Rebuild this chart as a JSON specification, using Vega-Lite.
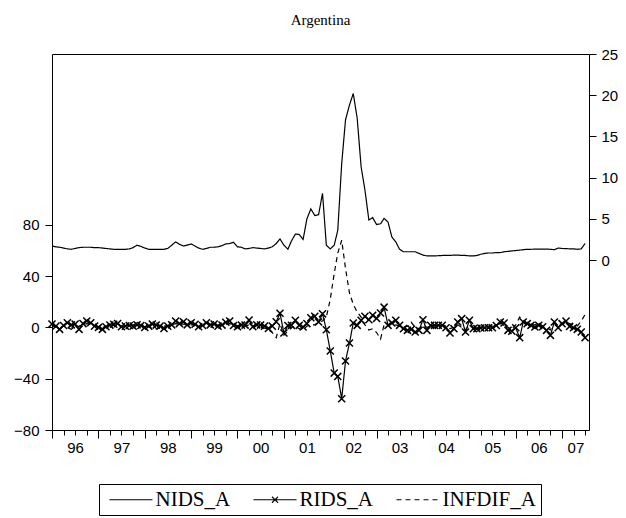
{
  "$schema": "https://vega.github.io/schema/vega-lite/v6.json",
  "autosize": {"type": "none"},
  "width": 537,
  "height": 376,
  "padding": {"left": 52, "top": 54, "right": 37, "bottom": 88},
  "background": "white",
  "title": {"text": "Argentina", "font": "Liberation Serif", "fontSize": 15, "fontWeight": "normal", "color": "black", "frame": "group", "anchor": "middle", "baseline": "alphabetic", "offset": 7},
  "config": {
    "view": {"stroke": "black", "strokeWidth": 1},
    "axis": {"labelFont": "Liberation Sans", "labelFontSize": 15, "labelColor": "black", "tickColor": "black", "domain": false, "grid": false, "title": null}
  },
  "data": {"values": [
{"d":"1996-01","n":1.7,"r":2.6,"i":1.5},
{"d":"1996-02","n":1.6,"r":1,"i":0.5},
{"d":"1996-03","n":1.55,"r":-1.5,"i":-0.5},
{"d":"1996-04","n":1.45,"r":1.5,"i":1},
{"d":"1996-05","n":1.35,"r":3.6,"i":0},
{"d":"1996-06","n":1.3,"r":2,"i":-1.5},
{"d":"1996-07","n":1.4,"r":2.6,"i":0.5},
{"d":"1996-08","n":1.5,"r":-1.5,"i":1},
{"d":"1996-09","n":1.55,"r":3,"i":2},
{"d":"1996-10","n":1.55,"r":5,"i":3},
{"d":"1996-11","n":1.55,"r":3.6,"i":2.5},
{"d":"1996-12","n":1.5,"r":1,"i":1.5},
{"d":"1997-01","n":1.5,"r":0,"i":0.5},
{"d":"1997-02","n":1.45,"r":-1.5,"i":0},
{"d":"1997-03","n":1.4,"r":0.5,"i":0.5},
{"d":"1997-04","n":1.35,"r":1.8,"i":1},
{"d":"1997-05","n":1.3,"r":2.5,"i":1.5},
{"d":"1997-06","n":1.3,"r":3,"i":2},
{"d":"1997-07","n":1.3,"r":0.5,"i":1},
{"d":"1997-08","n":1.3,"r":1,"i":1},
{"d":"1997-09","n":1.35,"r":1.5,"i":1.5},
{"d":"1997-10","n":1.5,"r":1,"i":2},
{"d":"1997-11","n":1.8,"r":2,"i":2.5},
{"d":"1997-12","n":1.65,"r":1.5,"i":1.5},
{"d":"1998-01","n":1.45,"r":0,"i":0.5},
{"d":"1998-02","n":1.3,"r":1,"i":0.5},
{"d":"1998-03","n":1.3,"r":2.6,"i":-0.5},
{"d":"1998-04","n":1.3,"r":1.8,"i":-1},
{"d":"1998-05","n":1.3,"r":1,"i":0},
{"d":"1998-06","n":1.3,"r":-0.8,"i":1},
{"d":"1998-07","n":1.4,"r":1,"i":1.5},
{"d":"1998-08","n":1.8,"r":2,"i":2},
{"d":"1998-09","n":2.2,"r":5,"i":3},
{"d":"1998-10","n":1.9,"r":3,"i":2.5},
{"d":"1998-11","n":1.7,"r":4.4,"i":2.5},
{"d":"1998-12","n":1.8,"r":2,"i":2},
{"d":"1999-01","n":1.95,"r":3.6,"i":2},
{"d":"1999-02","n":1.7,"r":2.5,"i":2},
{"d":"1999-03","n":1.45,"r":0.5,"i":1.5},
{"d":"1999-04","n":1.3,"r":1.5,"i":1.5},
{"d":"1999-05","n":1.4,"r":3.6,"i":2},
{"d":"1999-06","n":1.55,"r":2,"i":2},
{"d":"1999-07","n":1.55,"r":2.6,"i":2.5},
{"d":"1999-08","n":1.6,"r":1,"i":2},
{"d":"1999-09","n":1.75,"r":1.8,"i":2},
{"d":"1999-10","n":1.95,"r":4,"i":2.5},
{"d":"1999-11","n":2.0,"r":5,"i":3},
{"d":"1999-12","n":2.15,"r":1.5,"i":2},
{"d":"2000-01","n":1.6,"r":0.5,"i":1.5},
{"d":"2000-02","n":1.55,"r":1.8,"i":1.5},
{"d":"2000-03","n":1.35,"r":1.8,"i":1},
{"d":"2000-04","n":1.4,"r":5.7,"i":2},
{"d":"2000-05","n":1.5,"r":0.5,"i":1},
{"d":"2000-06","n":1.45,"r":2,"i":1.5},
{"d":"2000-07","n":1.4,"r":1.8,"i":0},
{"d":"2000-08","n":1.35,"r":1,"i":-0.5},
{"d":"2000-09","n":1.45,"r":-0.8,"i":-2},
{"d":"2000-10","n":1.6,"r":1,"i":-4},
{"d":"2000-11","n":2.0,"r":4.4,"i":-8},
{"d":"2000-12","n":2.55,"r":11,"i":3},
{"d":"2001-01","n":1.8,"r":-4.4,"i":-6},
{"d":"2001-02","n":1.3,"r":1.5,"i":-3},
{"d":"2001-03","n":2.3,"r":1.6,"i":0},
{"d":"2001-04","n":3.15,"r":5.5,"i":1},
{"d":"2001-05","n":3.1,"r":1.6,"i":-1},
{"d":"2001-06","n":2.5,"r":0.3,"i":-2},
{"d":"2001-07","n":5.0,"r":3,"i":1},
{"d":"2001-08","n":6.2,"r":7.5,"i":2},
{"d":"2001-09","n":5.4,"r":8.6,"i":2},
{"d":"2001-10","n":5.5,"r":4.2,"i":4},
{"d":"2001-11","n":8.1,"r":10.6,"i":5},
{"d":"2001-12","n":1.8,"r":-1.8,"i":8},
{"d":"2002-01","n":1.35,"r":-18.4,"i":22},
{"d":"2002-02","n":1.8,"r":-35.6,"i":42},
{"d":"2002-03","n":3.6,"r":-38.2,"i":58},
{"d":"2002-04","n":11.7,"r":-55.6,"i":68},
{"d":"2002-05","n":17.0,"r":-26.2,"i":46},
{"d":"2002-06","n":18.8,"r":-12.2,"i":27},
{"d":"2002-07","n":20.2,"r":3.4,"i":18},
{"d":"2002-08","n":17.2,"r":1.6,"i":12},
{"d":"2002-09","n":11.3,"r":5.5,"i":8},
{"d":"2002-10","n":8.5,"r":8.6,"i":2},
{"d":"2002-11","n":4.85,"r":6,"i":-2},
{"d":"2002-12","n":5.15,"r":9.4,"i":-1},
{"d":"2003-01","n":4.3,"r":7,"i":-4},
{"d":"2003-02","n":4.4,"r":11.2,"i":-9},
{"d":"2003-03","n":5.05,"r":15.8,"i":2},
{"d":"2003-04","n":4.6,"r":1.6,"i":1},
{"d":"2003-05","n":2.8,"r":3.5,"i":3},
{"d":"2003-06","n":2.2,"r":5.5,"i":2},
{"d":"2003-07","n":1.3,"r":1.6,"i":1},
{"d":"2003-08","n":1.0,"r":-1,"i":0},
{"d":"2003-09","n":1.0,"r":-2.3,"i":1},
{"d":"2003-10","n":1.0,"r":-1.5,"i":4},
{"d":"2003-11","n":1.0,"r":-3.6,"i":0},
{"d":"2003-12","n":0.8,"r":-2.3,"i":-1},
{"d":"2004-01","n":0.6,"r":6,"i":2},
{"d":"2004-02","n":0.5,"r":-2.3,"i":0},
{"d":"2004-03","n":0.5,"r":1.6,"i":1},
{"d":"2004-04","n":0.5,"r":1.6,"i":0},
{"d":"2004-05","n":0.52,"r":1.6,"i":1},
{"d":"2004-06","n":0.55,"r":1.6,"i":2},
{"d":"2004-07","n":0.55,"r":-0.3,"i":1},
{"d":"2004-08","n":0.55,"r":-4.4,"i":-1},
{"d":"2004-09","n":0.6,"r":-1,"i":0},
{"d":"2004-10","n":0.6,"r":4.2,"i":2},
{"d":"2004-11","n":0.55,"r":6.8,"i":0},
{"d":"2004-12","n":0.55,"r":-3.6,"i":-2},
{"d":"2005-01","n":0.5,"r":5.5,"i":2},
{"d":"2005-02","n":0.5,"r":-1,"i":0},
{"d":"2005-03","n":0.55,"r":-1,"i":-1},
{"d":"2005-04","n":0.7,"r":-0.5,"i":0},
{"d":"2005-05","n":0.8,"r":-0.3,"i":1},
{"d":"2005-06","n":0.85,"r":-0.3,"i":1},
{"d":"2005-07","n":0.85,"r":-0.3,"i":1},
{"d":"2005-08","n":0.9,"r":1.5,"i":2},
{"d":"2005-09","n":0.9,"r":4.2,"i":3},
{"d":"2005-10","n":1.0,"r":3.4,"i":2},
{"d":"2005-11","n":1.05,"r":-2.3,"i":0},
{"d":"2005-12","n":1.1,"r":-2.9,"i":-1},
{"d":"2006-01","n":1.15,"r":-0.3,"i":2},
{"d":"2006-02","n":1.2,"r":-8,"i":8},
{"d":"2006-03","n":1.25,"r":4.2,"i":5},
{"d":"2006-04","n":1.3,"r":2.9,"i":3},
{"d":"2006-05","n":1.3,"r":1.6,"i":2},
{"d":"2006-06","n":1.32,"r":0.3,"i":2},
{"d":"2006-07","n":1.32,"r":1.6,"i":3},
{"d":"2006-08","n":1.33,"r":0.5,"i":1},
{"d":"2006-09","n":1.33,"r":-2.3,"i":0},
{"d":"2006-10","n":1.3,"r":-6.2,"i":-2},
{"d":"2006-11","n":1.25,"r":4.2,"i":4},
{"d":"2006-12","n":1.45,"r":-0.3,"i":2},
{"d":"2007-01","n":1.4,"r":2.9,"i":3},
{"d":"2007-02","n":1.38,"r":4.9,"i":4},
{"d":"2007-03","n":1.36,"r":0.8,"i":3},
{"d":"2007-04","n":1.35,"r":-0.3,"i":2},
{"d":"2007-05","n":1.3,"r":-1.5,"i":1},
{"d":"2007-06","n":1.35,"r":-3.6,"i":5},
{"d":"2007-07","n":2.0,"r":-8,"i":10}
  ]},
  "resolve": {"scale": {"y": "independent"}, "axis": {"x": "independent", "y": "independent"}},
  "layer": [
    {
      "mark": {"type": "line", "color": "black", "strokeWidth": 1.2},
      "encoding": {
        "x": {"field": "d", "type": "temporal",
              "scale": {"type": "utc", "domain": [{"year": 1996, "month": 1, "date": 1, "utc": true}, {"year": 2007, "month": 8, "date": 1, "utc": true}]},
              "axis": {"orient": "bottom", "tickCount": {"interval": "month", "step": 3}, "labels": false, "tickSize": {"condition": {"test": "utcmonth(datum.value) === 0", "value": 8}, "value": 5}}},
        "y": {"field": "n", "type": "quantitative",
              "scale": {"domain": [-20.63, 25], "nice": false, "zero": false},
              "axis": {"orient": "right", "values": [0, 5, 10, 15, 20, 25], "tickSize": 7, "labelPadding": 5}},
        "strokeDash": {"datum": "NIDS_A", "type": "nominal",
              "scale": {"domain": ["NIDS_A", "RIDS_A", "INFDIF_A"], "range": [[1, 0], [1, 0], [5, 4]]},
              "legend": {"orient": "none", "legendX": 47, "legendY": 430, "direction": "horizontal", "title": null,
                         "strokeColor": "black", "fillColor": "white", "padding": 5,
                         "labelFont": "Liberation Serif", "labelFontSize": 21, "labelColor": "black",
                         "symbolSize": 100, "symbolStrokeColor": "black", "symbolStrokeWidth": 1.2,
                         "symbolOffset": 16.5, "labelOffset": 14, "columnPadding": 17,
                         "encode": {"symbols": {"update": {"shape": {"signal": "datum.value === 'RIDS_A' ? 'M-4.3,0H4.3M-0.6,-0.6L0.6,0.6M-0.6,0.6L0.6,-0.6' : 'M-4.3,0H4.3'"}}}}}}
      }
    },
    {
      "mark": {"type": "line", "color": "black", "strokeWidth": 1.2},
      "encoding": {
        "x": {"field": "d", "type": "temporal",
              "scale": {"type": "utc", "domain": [{"year": 1996, "month": 1, "date": 1, "utc": true}, {"year": 2007, "month": 8, "date": 1, "utc": true}]},
              "axis": {"orient": "bottom", "ticks": false, "labelFlush": false, "labelOverlap": false, "labelPadding": 10, "labelBaseline": "top",
                       "values": [
                         {"year": 1996, "month": 7, "date": 1, "utc": true},
                         {"year": 1997, "month": 7, "date": 1, "utc": true},
                         {"year": 1998, "month": 7, "date": 1, "utc": true},
                         {"year": 1999, "month": 7, "date": 1, "utc": true},
                         {"year": 2000, "month": 7, "date": 1, "utc": true},
                         {"year": 2001, "month": 7, "date": 1, "utc": true},
                         {"year": 2002, "month": 7, "date": 1, "utc": true},
                         {"year": 2003, "month": 7, "date": 1, "utc": true},
                         {"year": 2004, "month": 7, "date": 1, "utc": true},
                         {"year": 2005, "month": 7, "date": 1, "utc": true},
                         {"year": 2006, "month": 7, "date": 1, "utc": true},
                         {"year": 2007, "month": 4, "date": 16, "utc": true}],
                       "labelExpr": "utcFormat(datum.value, '%y')"}},
        "y": {"field": "r", "type": "quantitative",
              "scale": {"domain": [-80, 213.2], "nice": false, "zero": false},
              "axis": {"orient": "left", "values": [-80, -40, 0, 40, 80], "tickSize": 7, "labelPadding": 6}},
        "strokeDash": {"datum": "RIDS_A", "type": "nominal"}
      }
    },
    {
      "mark": {"type": "point", "shape": "M-1,-1L1,1M-1,1L1,-1", "filled": false, "color": "black", "strokeWidth": 1.5, "size": 50, "opacity": 1},
      "encoding": {
        "x": {"field": "d", "type": "temporal",
              "scale": {"type": "utc", "domain": [{"year": 1996, "month": 1, "date": 1, "utc": true}, {"year": 2007, "month": 8, "date": 1, "utc": true}]},
              "axis": null},
        "y": {"field": "r", "type": "quantitative",
              "scale": {"domain": [-80, 213.2], "nice": false, "zero": false},
              "axis": null}
      }
    },
    {
      "mark": {"type": "line", "color": "black", "strokeWidth": 1.2},
      "encoding": {
        "x": {"field": "d", "type": "temporal",
              "scale": {"type": "utc", "domain": [{"year": 1996, "month": 1, "date": 1, "utc": true}, {"year": 2007, "month": 8, "date": 1, "utc": true}]},
              "axis": null},
        "y": {"field": "i", "type": "quantitative",
              "scale": {"domain": [-80, 213.2], "nice": false, "zero": false},
              "axis": null},
        "strokeDash": {"datum": "INFDIF_A", "type": "nominal"}
      }
    }
  ]
}
